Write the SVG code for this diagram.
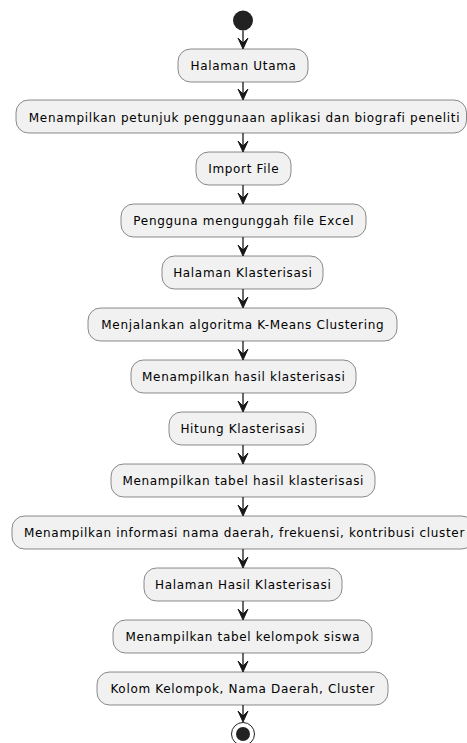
<svg xmlns="http://www.w3.org/2000/svg" width="467" height="743" viewBox="0 0 467 743">
<defs>
<style>
.box rect{fill:#F1F1F1;stroke:#181818;stroke-width:0.5}
.box text{font-family:"DejaVu Sans",sans-serif;font-size:12px;letter-spacing:0.67px;fill:#000;text-anchor:middle}
.conn line{stroke:#181818;stroke-width:1.3}
.conn polygon{fill:#181818;stroke:#181818;stroke-width:1}
</style>
</defs>
<rect width="467" height="743" fill="#fff"/>
<g id="start"><circle cx="243" cy="20.5" r="10" fill="#222"/></g>
<g id="n1" class="box"><rect x="178" y="49" width="130" height="33" rx="12.5"/><text x="243.5" y="70">Halaman Utama</text></g>
<g id="n2" class="box"><rect x="16" y="100" width="450.5" height="33" rx="12.5"/><text x="244.5" y="122">Menampilkan petunjuk penggunaan aplikasi dan biografi peneliti</text></g>
<g id="n3" class="box"><rect x="196" y="152" width="95" height="33" rx="12.5"/><text x="243.8" y="173">Import File</text></g>
<g id="n4" class="box"><rect x="121" y="204" width="245" height="33" rx="12.5"/><text x="243.8" y="225">Pengguna mengunggah file Excel</text></g>
<g id="n5" class="box"><rect x="162" y="256" width="161" height="33" rx="12.5"/><text x="242.8" y="277">Halaman Klasterisasi</text></g>
<g id="n6" class="box"><rect x="88" y="308" width="309" height="33" rx="12.5"/><text x="242.8" y="329">Menjalankan algoritma K-Means Clustering</text></g>
<g id="n7" class="box"><rect x="131" y="360" width="225" height="33" rx="12.5"/><text x="243.8" y="381">Menampilkan hasil klasterisasi</text></g>
<g id="n8" class="box"><rect x="169" y="412" width="147" height="33" rx="12.5"/><text x="242.8" y="433">Hitung Klasterisasi</text></g>
<g id="n9" class="box"><rect x="111" y="464" width="264" height="33" rx="12.5"/><text x="243.3" y="485">Menampilkan tabel hasil klasterisasi</text></g>
<g id="n10" class="box"><rect x="12" y="516" width="462" height="33" rx="12.5"/><text x="244.5" y="537">Menampilkan informasi nama daerah, frekuensi, kontribusi cluster</text></g>
<g id="n11" class="box"><rect x="144" y="568" width="198" height="33" rx="12.5"/><text x="243.3" y="589">Halaman Hasil Klasterisasi</text></g>
<g id="n12" class="box"><rect x="113" y="620" width="259" height="33" rx="12.5"/><text x="242.8" y="641">Menampilkan tabel kelompok siswa</text></g>
<g id="n13" class="box"><rect x="97" y="672" width="291" height="33" rx="12.5"/><text x="242.8" y="693">Kolom Kelompok, Nama Daerah, Cluster</text></g>
<g id="end"><circle cx="243" cy="734" r="11.5" fill="#fff" stroke="#222" stroke-width="1"/><circle cx="243" cy="734" r="7" fill="#222"/></g>
<g id="connectors" class="conn">
<line x1="243" y1="30.5" x2="243" y2="45"/><polygon points="238,38 243,49 248,38 243,43"/>
<line x1="243" y1="82" x2="243" y2="96"/><polygon points="238,89 243,100 248,89 243,94"/>
<line x1="243" y1="133" x2="243" y2="148"/><polygon points="238,141 243,152 248,141 243,146"/>
<line x1="243" y1="185" x2="243" y2="200"/><polygon points="238,193 243,204 248,193 243,198"/>
<line x1="243" y1="237" x2="243" y2="252"/><polygon points="238,245 243,256 248,245 243,250"/>
<line x1="243" y1="289" x2="243" y2="304"/><polygon points="238,297 243,308 248,297 243,302"/>
<line x1="243" y1="341" x2="243" y2="356"/><polygon points="238,349 243,360 248,349 243,354"/>
<line x1="243" y1="393" x2="243" y2="408"/><polygon points="238,401 243,412 248,401 243,406"/>
<line x1="243" y1="445" x2="243" y2="460"/><polygon points="238,453 243,464 248,453 243,458"/>
<line x1="243" y1="497" x2="243" y2="512"/><polygon points="238,505 243,516 248,505 243,510"/>
<line x1="243" y1="549" x2="243" y2="564"/><polygon points="238,557 243,568 248,557 243,562"/>
<line x1="243" y1="601" x2="243" y2="616"/><polygon points="238,609 243,620 248,609 243,614"/>
<line x1="243" y1="653" x2="243" y2="668"/><polygon points="238,661 243,672 248,661 243,666"/>
<line x1="243" y1="705" x2="243" y2="718"/><polygon points="238,711 243,722 248,711 243,716"/>
</g>
</svg>
